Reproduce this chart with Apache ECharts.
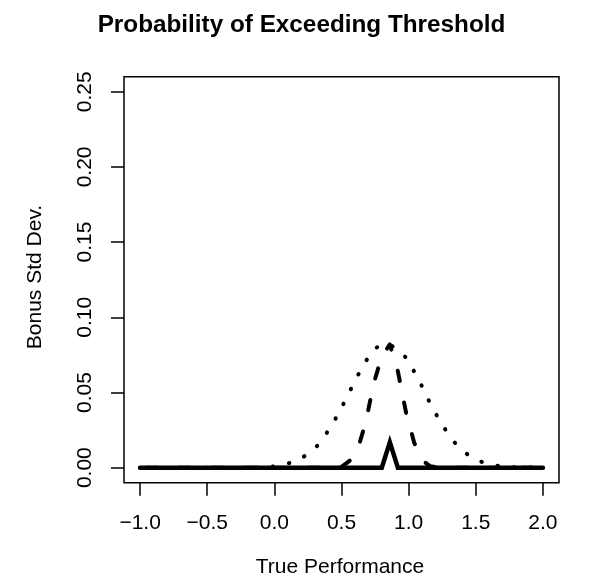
<!DOCTYPE html>
<html>
<head>
<meta charset="utf-8">
<script src="https://cdn.jsdelivr.net/npm/echarts@6/dist/echarts.min.js"></script>
<style>html,body{margin:0;padding:0;background:#fff}#c{width:590px;height:587px}</style>
</head>
<body>
<div id="c"></div>
<script>
// True performance grid
var xValues = [-1.00,-0.94,-0.88,-0.82,-0.76,-0.70,-0.64,-0.58,-0.52,-0.46,-0.40,-0.34,-0.28,-0.22,-0.16,-0.10,-0.04,0.02,0.08,0.14,0.20,0.26,0.32,0.38,0.44,0.50,0.56,0.62,0.68,0.74,0.80,0.86,0.92,0.98,1.04,1.10,1.16,1.22,1.28,1.34,1.40,1.46,1.52,1.58,1.64,1.70,1.76,1.82,1.88,1.94,2.00];
// dotted curve (widest)
var dottedValues = [0,0,0,0,0,0,0,0,0,0,0,0,0,0,0.0001,0.0002,0.0005,0.0011,0.0022,0.0038,0.0062,0.0098,0.0146,0.0217,0.0300,0.0398,0.0505,0.0611,0.0706,0.0790,0.0815,0.0820,0.0782,0.0733,0.0641,0.0540,0.0428,0.0330,0.0244,0.0170,0.0114,0.0074,0.0046,0.0027,0.0015,0.0008,0.0004,0.0002,0.0001,0,0];
// dashed curve
var dashedValues = [0,0,0,0,0,0,0,0,0,0,0,0,0,0,0,0,0,0,0,0,0,0,0,0,0,0.0005,0.0045,0.0120,0.0300,0.0560,0.0740,0.0820,0.0640,0.0370,0.0170,0.0050,0.0010,0,0,0,0,0,0,0,0,0,0,0,0,0,0];
// solid curve (spike)
var solidValues = [0,0,0,0,0,0,0,0,0,0,0,0,0,0,0,0,0,0,0,0,0,0,0,0,0,0,0,0,0,0,0,0.0169,0,0,0,0,0,0,0,0,0,0,0,0,0,0,0,0,0,0,0];
var xTicks = [-1.0,-0.5,0.0,0.5,1.0,1.5,2.0];
var yTicks = [0.00,0.05,0.10,0.15,0.20,0.25];

function pairs(vals){ return xValues.map(function(x,i){ return [x, vals[i]]; }); }
var FONT = '"Liberation Sans", Arial, Helvetica, sans-serif';
var chart = echarts.init(document.getElementById('c'), null, {renderer:'canvas'});
chart.setOption({
  animation:false,
  backgroundColor:'#fff',
  grid:{left:124, top:76.7, right:31, bottom:104.3, show:true, borderColor:'#000', borderWidth:1.5, backgroundColor:'transparent', containLabel:false},
  xAxis:{
    type:'value', min:-1.12, max:2.12, position:'bottom',
    axisLine:{show:false, onZero:false},
    splitLine:{show:false},
    axisTick:{show:true, inside:false, length:13, customValues:xTicks, lineStyle:{color:'#000', width:1.5}},
    axisLabel:{show:true, customValues:xTicks, margin:30, color:'#000', fontSize:21, fontFamily:FONT,
      formatter:function(v){ return (v<0?'\u2212':'') + Math.abs(v).toFixed(1); }}
  },
  yAxis:{
    type:'value', min:-0.01, max:0.26, position:'left',
    axisLine:{show:false, onZero:false},
    splitLine:{show:false},
    axisTick:{show:true, inside:false, length:13, customValues:yTicks, lineStyle:{color:'#000', width:1.5}},
    axisLabel:{show:true, customValues:yTicks, margin:28, rotate:90, color:'#000', fontSize:21, fontFamily:FONT,
      formatter:function(v){ return v.toFixed(2); }}
  },
  graphic:[
    {type:'text', x:301.5, y:25, style:{text:'Probability of Exceeding Threshold', font:'bold 24.3px '+FONT, fill:'#000', align:'center', verticalAlign:'middle'}},
    {type:'text', x:340, y:567, style:{text:'True Performance', font:'21px '+FONT, fill:'#000', align:'center', verticalAlign:'middle'}},
    {type:'text', x:35, y:277, rotation:Math.PI/2, style:{text:'Bonus Std Dev.', font:'21px '+FONT, fill:'#000', align:'center', verticalAlign:'middle'}}
  ],
  series:[
    {type:'line', data:pairs(dottedValues), showSymbol:false, symbol:'none', z:2,
      lineStyle:{color:'#000', width:4, type:[0.5,16.1], dashOffset:0.25, cap:'round', join:'round'}},
    {type:'line', data:pairs(dashedValues), showSymbol:false, symbol:'none', z:3,
      lineStyle:{color:'#000', width:4, type:[10.5,22], dashOffset:26.3, cap:'round', join:'round'}},
    {type:'line', data:pairs(solidValues), showSymbol:false, symbol:'none', z:4,
      lineStyle:{color:'#000', width:4.5, type:'solid', cap:'round', join:'miter'}}
  ]
});
</script>
</body>
</html>
